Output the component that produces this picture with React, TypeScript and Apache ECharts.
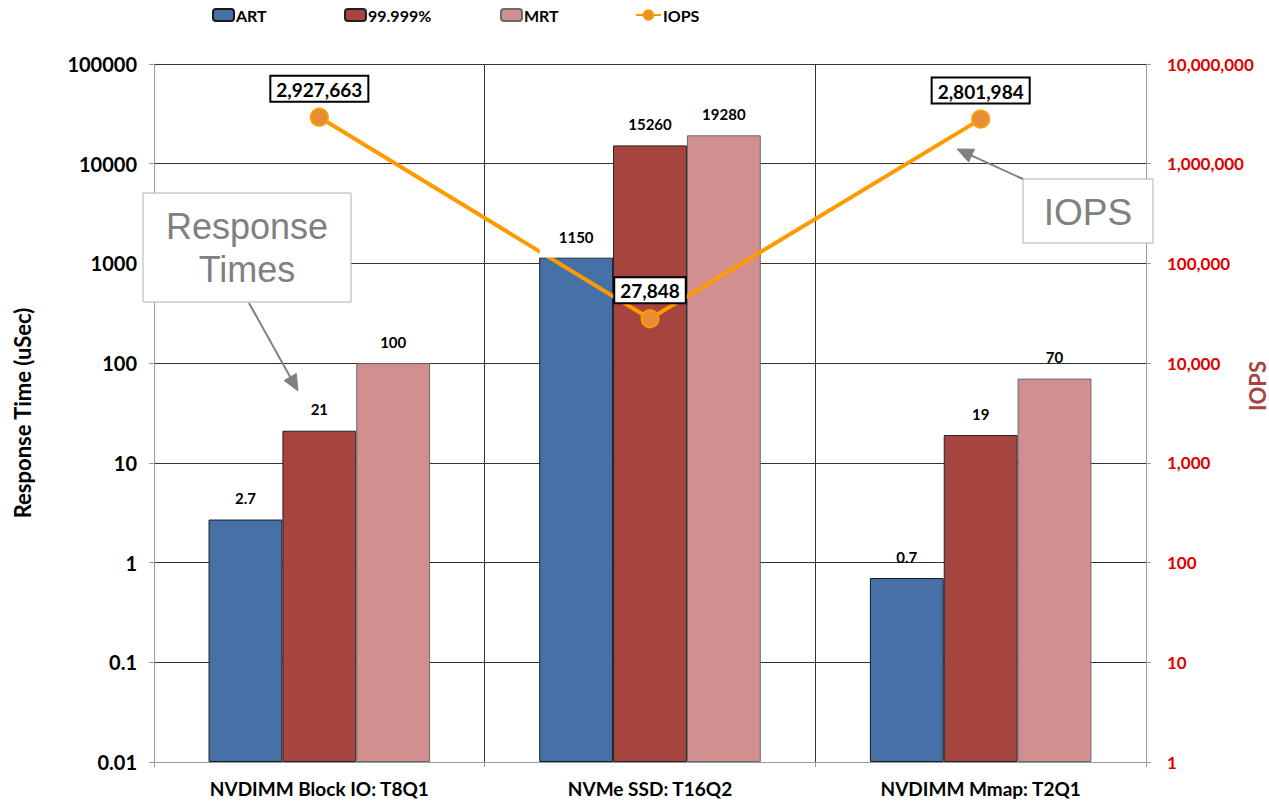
import React, { useEffect, useRef } from 'react';
import * as echarts from 'echarts';

const categories = ['NVDIMM Block IO: T8Q1', 'NVMe SSD: T16Q2', 'NVDIMM Mmap: T2Q1'];
const artValues = [2.7, 1150, 0.7];
const p99999Values = [21, 15260, 19];
const mrtValues = [100, 19280, 70];
const iopsValues = [2927663, 27848, 2801984];
const seriesNames = ['ART', '99.999%', 'MRT', 'IOPS'];
const leftAxisRange = [0.01, 100000];
const rightAxisRange = [1, 10000000];

const FONT = 'Lato, "Noto Sans", sans-serif';
const ANNO_FONT = '"Liberation Sans", Arial, sans-serif';
const LEGEND_LEFTS = [212, 344, 500, 635];

const COLORS = {
  art: '#4671A7',
  p99: '#A6443F',
  mrt: '#D18F8F',
  line: '#FF9A00',
  marker: '#E58E38',
  grid: '#333333',
  axis: '#9a9a9a',
};

function arrowHead(x1: number, y1: number, x2: number, y2: number, len: number, half: number) {
  const a = Math.atan2(y2 - y1, x2 - x1);
  const bx = x2 - len * Math.cos(a);
  const by = y2 - len * Math.sin(a);
  const px = -Math.sin(a) * half;
  const py = Math.cos(a) * half;
  return { points: [[x2, y2], [bx + px, by + py], [bx - px, by - py]], base: [bx, by] };
}

function arrow(x1: number, y1: number, x2: number, y2: number) {
  const h = arrowHead(x1, y1, x2, y2, 16, 7);
  return [
    {
      type: 'line',
      z: 100,
      shape: { x1, y1, x2: h.base[0], y2: h.base[1] },
      style: { stroke: '#808080', lineWidth: 2 },
    },
    {
      type: 'polygon',
      z: 100,
      shape: { points: h.points },
      style: { fill: '#808080', stroke: '#808080' },
    },
  ];
}

export default function App() {
  const ref = useRef<HTMLDivElement>(null);
  useEffect(() => {
    if (!ref.current) return;
    const chart = echarts.init(ref.current, null, { renderer: 'svg' });

    const barLabel = {
      show: true,
      position: 'top',
      distance: 14,
      fontFamily: FONT,
      fontSize: 15,
      fontWeight: 'bold',
      color: '#000',
    };

    const mainBar = (name: string, values: number[], color: string, border: string) => ({
      name,
      type: 'bar',
      xAxisIndex: 0,
      yAxisIndex: 0,
      barGap: '0%',
      barCategoryGap: '33%',
      z: 2,
      data: values,
      itemStyle: { color, borderColor: border, borderWidth: 1 },
      label: { show: false },
    });

    const labelBar = (name: string, values: number[], special?: number) => ({
      name: name + ' label',
      type: 'bar',
      xAxisIndex: 1,
      yAxisIndex: 0,
      barGap: '0%',
      barCategoryGap: '33%',
      z: 5,
      silent: true,
      data: values.map((v, i) =>
        i === special
          ? { value: v, label: { backgroundColor: '#fff', padding: [13, 19], distance: 0 } }
          : v
      ),
      itemStyle: { color: 'rgba(0,0,0,0)', borderWidth: 0 },
      label: barLabel,
    });

    const option: any = {
      animation: false,
      backgroundColor: '#fff',
      legend: seriesNames.map((n, i) => ({
        data: [n],
        left: LEGEND_LEFTS[i],
        top: 7,
        itemWidth: i === 3 ? 25 : 21,
        itemHeight: 12,
        itemGap: 0,
        padding: 0,
        textStyle: {
          fontFamily: FONT,
          fontSize: 16,
          fontWeight: 'bold',
          color: '#000',
          padding: [0, 0, 0, -3],
        },
      })),
      grid: {
        left: 154,
        right: 123,
        top: 64,
        bottom: 47,
        containLabel: false,
        outerBoundsMode: 'none',
      },
      xAxis: [
        {
          type: 'category',
          data: categories,
          boundaryGap: true,
          axisLine: { lineStyle: { color: COLORS.axis, width: 1 } },
          axisTick: { show: true, length: 5, lineStyle: { color: COLORS.axis } },
          axisLabel: {
            fontFamily: FONT,
            fontSize: 19,
            fontWeight: 'bold',
            color: '#000',
            margin: 17,
          },
          splitLine: {
            show: true,
            showMinLine: false,
            showMaxLine: false,
            lineStyle: { color: COLORS.grid, width: 1 },
          },
        },
        {
          type: 'category',
          data: categories,
          show: false,
          boundaryGap: true,
        },
      ],
      yAxis: [
        {
          type: 'log',
          logBase: 10,
          min: leftAxisRange[0],
          max: leftAxisRange[1],
          interval: 1,
          startValue: leftAxisRange[0],
          name: 'Response Time (uSec)',
          nameLocation: 'middle',
          nameRotate: 90,
          nameGap: 121,
          nameMoveOverlap: false,
          nameTextStyle: { fontFamily: FONT, fontSize: 22, fontWeight: 'bold', color: '#000' },
          axisLine: { show: true, lineStyle: { color: COLORS.axis, width: 1 } },
          axisTick: { show: true, length: 5, lineStyle: { color: COLORS.axis } },
          axisLabel: {
            fontFamily: FONT,
            fontSize: 20,
            fontWeight: 'bold',
            color: '#000',
            margin: 17,
            formatter: (v: number) => String(Number(v.toPrecision(6))),
          },
          splitLine: { show: true, lineStyle: { color: COLORS.grid, width: 1 } },
        },
        {
          type: 'log',
          logBase: 10,
          min: rightAxisRange[0],
          max: rightAxisRange[1],
          interval: 1,
          position: 'right',
          name: 'IOPS',
          nameLocation: 'middle',
          nameRotate: 90,
          nameGap: 100,
          nameMoveOverlap: false,
          nameTextStyle: {
            fontFamily: FONT,
            fontSize: 22,
            fontWeight: 'bold',
            color: COLORS.p99,
            padding: [0, 0, 0, 54],
          },
          axisLine: { show: true, lineStyle: { color: COLORS.axis, width: 1 } },
          axisTick: { show: true, length: 5, lineStyle: { color: COLORS.axis } },
          axisLabel: {
            fontFamily: FONT,
            fontSize: 17,
            fontWeight: 'bold',
            color: '#E00000',
            margin: 21,
            formatter: (v: number) => Math.round(v).toLocaleString('en-US'),
          },
          splitLine: { show: false },
        },
      ],
      series: [
        mainBar(seriesNames[0], artValues, COLORS.art, '#1a1a1a'),
        mainBar(seriesNames[1], p99999Values, COLORS.p99, '#222222'),
        mainBar(seriesNames[2], mrtValues, COLORS.mrt, '#6a6a6a'),
        {
          name: seriesNames[3],
          type: 'line',
          xAxisIndex: 0,
          yAxisIndex: 1,
          z: 3,
          data: iopsValues,
          symbol: 'circle',
          symbolSize: 17,
          lineStyle: { color: COLORS.line, width: 4 },
          itemStyle: { color: COLORS.marker, borderColor: COLORS.line, borderWidth: 2 },
          label: {
            show: true,
            position: 'top',
            distance: 7,
            fontFamily: FONT,
            fontSize: 19,
            fontWeight: 'bold',
            color: '#000',
            backgroundColor: '#fff',
            borderColor: '#000',
            borderWidth: 2,
            padding: [3, 5, 2, 5],
            formatter: (p: any) => Number(p.value).toLocaleString('en-US'),
          },
        },
        labelBar(seriesNames[0], artValues, 1),
        labelBar(seriesNames[1], p99999Values),
        labelBar(seriesNames[2], mrtValues),
      ],
      graphic: [
        {
          type: 'rect',
          z: 100,
          shape: { x: 143, y: 193, width: 208, height: 109 },
          style: { fill: '#fff', stroke: '#b0b0b0', lineWidth: 1 },
        },
        {
          type: 'text',
          z: 101,
          x: 247,
          y: 248,
          style: {
            text: 'Response\nTimes',
            fill: '#808080',
            font: `36px ${ANNO_FONT}`,
            lineHeight: 43,
            align: 'center',
            verticalAlign: 'middle',
          },
        },
        ...arrow(249, 303, 298, 391),
        {
          type: 'rect',
          z: 100,
          shape: { x: 1023, y: 179, width: 130, height: 64 },
          style: { fill: '#fff', stroke: '#b0b0b0', lineWidth: 1 },
        },
        {
          type: 'text',
          z: 101,
          x: 1088,
          y: 212,
          style: {
            text: 'IOPS',
            fill: '#808080',
            font: `37px ${ANNO_FONT}`,
            align: 'center',
            verticalAlign: 'middle',
          },
        },
        ...arrow(1023, 179, 957, 149),
      ],
    };

    chart.setOption(option);
    return () => chart.dispose();
  }, []);

  return (
    <div
      ref={ref}
      style={{ position: 'fixed', left: 0, top: 0, width: 1269, height: 809, background: '#fff' }}
    />
  );
}
